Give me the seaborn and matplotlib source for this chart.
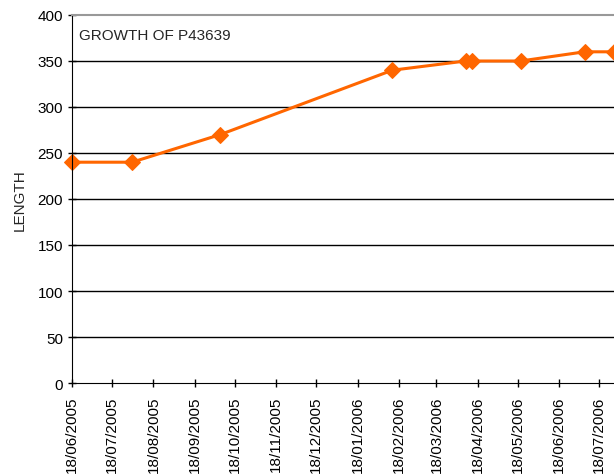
import pandas as pd
import matplotlib
matplotlib.use('Agg')
import matplotlib.pyplot as plt
import matplotlib.dates as mdates
import seaborn as sns

dates = ['2005-06-18', '2005-08-02', '2005-10-07', '2006-02-13', '2006-04-09',
         '2006-04-14', '2006-05-20', '2006-07-07', '2006-07-29']
lengths = [240, 240, 270, 340, 350, 350, 350, 360, 360]
y_ticks = [0, 50, 100, 150, 200, 250, 300, 350, 400]

df = pd.DataFrame({'date': pd.to_datetime(dates), 'length': lengths})

sns.set_style('white')
plt.rcParams['font.family'] = ['Liberation Sans', 'DejaVu Sans']

fig = plt.figure(figsize=(6.14, 4.77), dpi=100)
ax = fig.add_axes([72 / 614, 1 - 384 / 477, 1 - 72 / 614, (384 - 16) / 477])

sns.lineplot(data=df, x='date', y='length', ax=ax, color='#FF6600', lw=2.2,
             marker='D', markersize=8, markeredgecolor='#FF6600', clip_on=False)

ax.set_ylim(0, 400)
ax.set_yticks(y_ticks)
ax.set_xlim(pd.Timestamp('2005-06-18'), pd.Timestamp('2006-07-29'))
ax.xaxis.set_major_locator(mdates.MonthLocator(bymonthday=18))
ax.xaxis.set_major_formatter(mdates.DateFormatter('%d/%m/%Y'))
plt.setp(ax.get_xticklabels(), rotation=90)

# horizontal gridlines
for v in y_ticks[1:-1]:
    ax.axhline(v, color='black', lw=1, zorder=0)

ax.spines['top'].set_color('#999999')
ax.spines['top'].set_linewidth(1.5)
ax.spines['right'].set_visible(False)
ax.spines['left'].set_color('black')
ax.spines['bottom'].set_color('black')
ax.tick_params(axis='both', direction='inout', length=6, width=1, color='black',
               labelsize=11, labelcolor='black', left=True, bottom=True)
ax.tick_params(axis='x', pad=6)

ax.set_xlabel('')
ax.set_ylabel('LENGTH', fontsize=11, labelpad=8)
ax.text(0.012, 0.945, 'GROWTH OF P43639', transform=ax.transAxes, fontsize=11,
        va='center', ha='left')

fig.savefig('out.png', dpi=100)
